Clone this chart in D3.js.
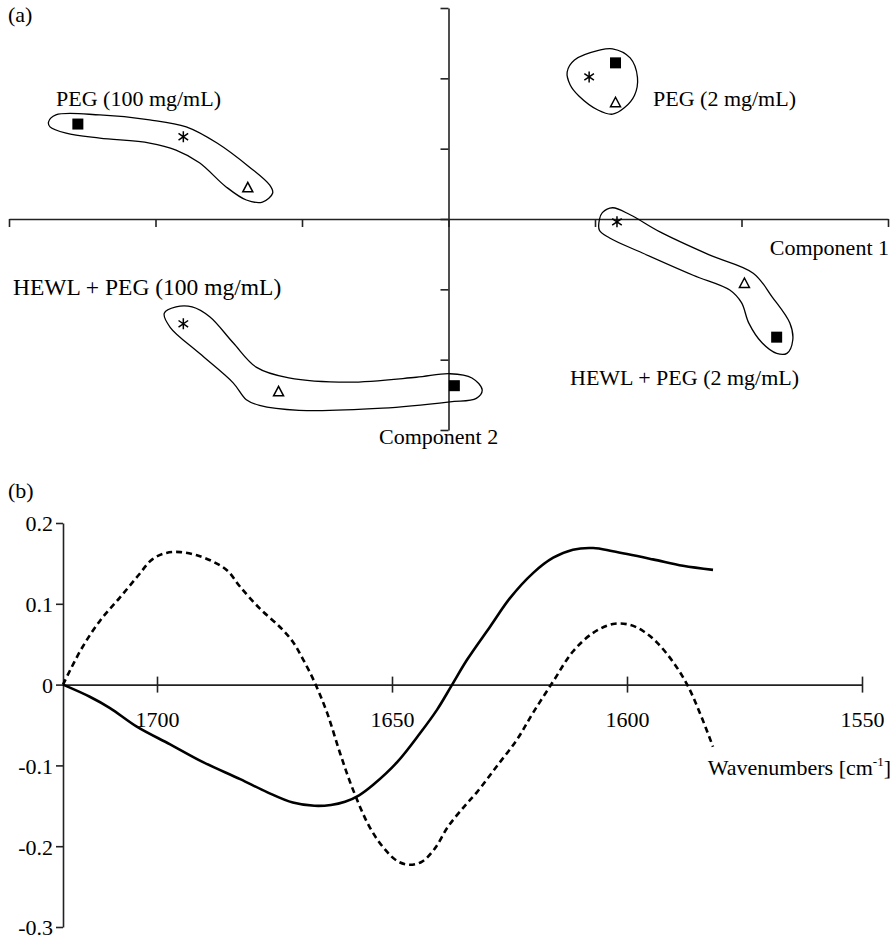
<!DOCTYPE html>
<html>
<head>
<meta charset="utf-8">
<script src="https://cdn.jsdelivr.net/npm/d3@7"></script>
<style>
  body { margin: 0; padding: 0; background: #fff; }
  svg text { font-family: "Liberation Serif", "Tinos", "Times New Roman", "Nimbus Roman", "DejaVu Serif", serif; fill: #000; }
</style>
</head>
<body>
<script>
// ---- panel (a): score plot, component 1 vs component 2 ----
var scoreTicks = [-3, -2, -1, 0, 1, 2, 3];

// [component1, component2, marker]
var peg100Points = [[-2.53, 1.35, "square"], [-1.81, 1.17, "star"], [-1.37, 0.45, "triangle"]];
var peg2Points = [[0.96, 2.02, "star"], [1.14, 2.22, "square"], [1.14, 1.66, "triangle"]];
var hewlPeg2Points = [[1.15, -0.04, "star"], [2.02, -0.91, "triangle"], [2.24, -1.68, "square"]];
var hewlPeg100Points = [[-1.81, -1.49, "star"], [-1.16, -2.45, "triangle"], [0.04, -2.37, "square"]];

// hand drawn outlines round each group (same units as the scores)
var peg100Outline = [[-2.73,1.38],[-2.68,1.48],[-2.38,1.48],[-2.04,1.41],[-1.79,1.31],[-1.58,1.08],[-1.36,0.74],
  [-1.22,0.48],[-1.20,0.37],[-1.27,0.24],[-1.38,0.27],[-1.52,0.46],[-1.70,0.80],[-1.86,0.98],[-2.04,1.08],
  [-2.38,1.15],[-2.61,1.22],[-2.72,1.31]];
var peg2Outline = [[0.81,2.09],[0.86,2.26],[1.03,2.40],[1.12,2.42],[1.24,2.29],[1.29,2.01],[1.27,1.76],
  [1.20,1.58],[1.12,1.49],[1.02,1.55],[0.89,1.75],[0.83,1.91]];
var hewlPeg2Outline = [[1.05,0.09],[1.12,0.16],[1.24,0.06],[1.44,-0.18],[1.78,-0.51],[2.08,-0.77],[2.21,-1.11],
  [2.33,-1.48],[2.35,-1.72],[2.31,-1.91],[2.24,-1.91],[2.14,-1.76],[2.05,-1.48],[2.00,-1.19],[1.92,-1.01],
  [1.67,-0.80],[1.32,-0.48],[1.10,-0.27],[1.03,-0.16],[1.03,-0.01]];
var hewlPeg100Outline = [[-1.94,-1.34],[-1.86,-1.25],[-1.75,-1.25],[-1.63,-1.39],[-1.47,-1.76],[-1.31,-2.11],
  [-1.09,-2.26],[-0.68,-2.32],[-0.22,-2.25],[0.01,-2.20],[0.16,-2.26],[0.23,-2.43],[0.19,-2.55],[0.01,-2.60],
  [-0.45,-2.69],[-1.02,-2.72],[-1.29,-2.65],[-1.38,-2.57],[-1.47,-2.33],[-1.70,-1.91],[-1.90,-1.54]];

// ---- panel (b): loadings vs wavenumber ----
var wnTicks = [1700, 1650, 1600, 1550];
var loadTicks = [0.2, 0.1, 0, -0.1, -0.2, -0.3];

var solidWn  = [1720,1714.3,1710.0,1704.3,1697.2,1690.2,1682.3,1676.6,1671.1,1666.5,1663.0,1660.0,1657.0,1654.0,1648.9,
  1644.0,1640.4,1637.2,1634.0,1629.1,1624.9,1620.0,1615.7,1611.5,1607.2,1603.0,1594.5,1588.1,1581.7];
var solidVal = [0,-0.015,-0.029,-0.052,-0.074,-0.096,-0.117,-0.133,-0.146,-0.150,-0.149,-0.145,-0.137,-0.124,-0.096,
  -0.060,-0.031,0,0.031,0.072,0.107,0.138,0.157,0.167,0.169,0.165,0.155,0.147,0.142];

var dashWn  = [1720,1716,1712,1708,1704,1701,1698,1695,1691.5,1688,1685,1682.3,1678.1,1673.8,1671.1,1668.9,
  1666.4,1663.8,1661.1,1658.3,1654.7,1651.5,1648.7,1646.2,1643.6,1640.9,1638.1,1634.5,1631.9,1627.7,1623.4,
  1620.0,1615.7,1611.5,1607.2,1603.0,1599.4,1596.5,1593.6,1590.2,1587.2,1584.5,1581.7];
var dashVal = [0,0.045,0.080,0.107,0.135,0.155,0.163,0.164,0.160,0.152,0.141,0.121,0.094,0.071,0.053,0.031,
  0.002,-0.035,-0.084,-0.130,-0.177,-0.204,-0.219,-0.223,-0.219,-0.203,-0.176,-0.150,-0.133,-0.101,-0.068,
  -0.035,0.004,0.041,0.064,0.075,0.074,0.066,0.052,0.028,0,-0.035,-0.077];

var W = 892, H = 939;
var fontSize = 22;

var svg = d3.select("body").append("svg")
  .attr("width", W).attr("height", H)
  .attr("viewBox", "0 0 " + W + " " + H);

// ================= panel (a) =================
var gA = svg.append("g");
var x1 = d3.scaleLinear().domain([-3, 3]).range([9, 888]);
var y1 = d3.scaleLinear().domain([-3, 3]).range([430, 8]);

var axA1 = gA.append("g").attr("transform", "translate(0," + y1(0) + ")")
  .call(d3.axisBottom(x1).tickValues(scoreTicks).tickFormat("").tickSize(8).tickSizeOuter(0));
var axA2 = gA.append("g").attr("transform", "translate(" + x1(0) + ",0)")
  .call(d3.axisLeft(y1).tickValues(scoreTicks).tickFormat("").tickSize(8).tickSizeOuter(0));
[axA1, axA2].forEach(function (a) {
  a.selectAll("path, line").attr("stroke", "#222").attr("stroke-width", 1.6);
});

var outline = d3.line()
  .x(function (d) { return x1(d[0]); })
  .y(function (d) { return y1(d[1]); })
  .curve(d3.curveCatmullRomClosed.alpha(0.5));

[peg100Outline, peg2Outline, hewlPeg2Outline, hewlPeg100Outline].forEach(function (o) {
  gA.append("path").attr("d", outline(o))
    .attr("fill", "none").attr("stroke", "#000").attr("stroke-width", 1.3);
});

function marker(g, d) {
  var cx = x1(d[0]), cy = y1(d[1]);
  if (d[2] === "square") {
    g.append("rect").attr("x", cx - 5.5).attr("y", cy - 5.5).attr("width", 11).attr("height", 11).attr("fill", "#000");
  } else if (d[2] === "triangle") {
    g.append("path").attr("d", "M" + cx + "," + (cy - 5) + "L" + (cx + 5) + "," + (cy + 4.5) + "L" + (cx - 5) + "," + (cy + 4.5) + "Z")
      .attr("fill", "none").attr("stroke", "#000").attr("stroke-width", 1.5);
  } else {
    var r = 5.5, s = 4.8;
    g.append("path").attr("d",
        "M" + cx + "," + (cy - r) + "V" + (cy + r) +
        "M" + (cx - s) + "," + (cy - r * 0.6) + "L" + (cx + s) + "," + (cy + r * 0.6) +
        "M" + (cx - s) + "," + (cy + r * 0.6) + "L" + (cx + s) + "," + (cy - r * 0.6))
      .attr("fill", "none").attr("stroke", "#000").attr("stroke-width", 1.5);
  }
}
[peg100Points, peg2Points, hewlPeg2Points, hewlPeg100Points].forEach(function (grp) {
  grp.forEach(function (d) { marker(gA, d); });
});

// [text, x, y, anchor, size]
var labelsA = [
  ["(a)", 8, 22, "start", fontSize],
  ["PEG (100 mg/mL)", 56, 106, "start", fontSize],
  ["PEG (2 mg/mL)", 653, 106, "start", fontSize],
  ["HEWL + PEG (100 mg/mL)", 13, 295, "start", 23.5],
  ["HEWL + PEG (2 mg/mL)", 570, 385, "start", fontSize],
  ["Component 1", 889, 255, "end", fontSize],
  ["Component 2", 379, 444, "start", fontSize]
];
labelsA.forEach(function (l) {
  gA.append("text").attr("x", l[1]).attr("y", l[2]).attr("text-anchor", l[3])
    .attr("font-size", l[4]).text(l[0]);
});

// ================= panel (b) =================
var gB = svg.append("g");
var x2 = d3.scaleLinear().domain([1720, 1550]).range([63, 862]);
var y2 = d3.scaleLinear().domain([-0.3, 0.2]).range([927, 523]);

var axB1 = gB.append("g").attr("transform", "translate(0," + y2(0) + ")")
  .call(d3.axisBottom(x2).tickValues(wnTicks).tickSize(8).tickSizeOuter(0).tickFormat(d3.format("d")));
axB1.selectAll(".tick line").attr("y1", -8).attr("y2", 8);
axB1.selectAll(".tick text").attr("y", 42).attr("dy", 0).attr("font-size", fontSize).attr("fill", "#000");

var axB2 = gB.append("g").attr("transform", "translate(" + x2(1720) + ",0)")
  .call(d3.axisLeft(y2).tickValues(loadTicks).tickSize(7).tickSizeOuter(0)
    .tickFormat(function (d) { return d === 0 ? "0" : d.toFixed(1); }));
axB2.selectAll(".tick text").attr("x", -10).attr("dy", "0.36em").attr("font-size", fontSize).attr("fill", "#000");
[axB1, axB2].forEach(function (a) {
  a.attr("font-family", null);
  a.selectAll("path, line").attr("stroke", "#222").attr("stroke-width", 1.6);
});

var spec = d3.line()
  .x(function (d) { return x2(d[0]); })
  .y(function (d) { return y2(d[1]); })
  .curve(d3.curveCatmullRom.alpha(0.5));

gB.append("path").attr("d", spec(d3.zip(dashWn, dashVal)))
  .attr("fill", "none").attr("stroke", "#000").attr("stroke-width", 2.6)
  .attr("stroke-dasharray", "6,4");
gB.append("path").attr("d", spec(d3.zip(solidWn, solidVal)))
  .attr("fill", "none").attr("stroke", "#000").attr("stroke-width", 2.6);

gB.append("text").attr("x", 8).attr("y", 498).attr("font-size", fontSize).text("(b)");
var wl = gB.append("text").attr("x", 891).attr("y", 775).attr("text-anchor", "end").attr("font-size", fontSize);
wl.append("tspan").text("Wavenumbers [cm");
wl.append("tspan").attr("font-size", 13).attr("dy", -9).text("-1");
wl.append("tspan").attr("dy", 9).text("]");
</script>
</body>
</html>
